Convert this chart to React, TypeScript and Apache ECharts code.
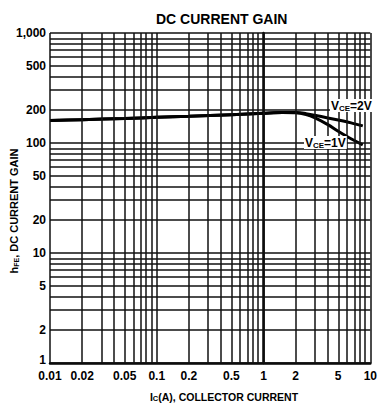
import React, { useEffect, useRef } from 'react';
import * as echarts from 'echarts';

// Collector current (A) sample points
const currentA = [0.01, 0.02, 0.05, 0.1, 0.2, 0.5, 1, 1.5, 2, 2.5, 3, 4, 5, 6, 7, 8.5];
// DC current gain, VCE = 2 V
const gainVce2V = [160, 163, 167, 171, 175, 181, 186, 189, 189, 185, 179, 169, 162, 156, 150, 143];
// DC current gain, VCE = 1 V
const gainVce1V = [160, 163, 167, 171, 175, 181, 186, 189, 188, 181, 170, 147, 128, 115, 106, 96];

const xTickValues = [0.01, 0.02, 0.05, 0.1, 0.2, 0.5, 1, 2, 5, 10];
const xTickLabels = ['0.01', '0.02', '0.05', '0.1', '0.2', '0.5', '1', '2', '5', '10'];
const yTickValues = [1, 2, 5, 10, 20, 50, 100, 200, 500, 1000];
const yTickLabels = ['1', '2', '5', '10', '20', '50', '100', '200', '500', '1,000'];

const xGridValues = [
  0.01, 0.02, 0.03, 0.04, 0.05, 0.06, 0.07, 0.08, 0.09,
  0.1, 0.2, 0.3, 0.4, 0.5, 0.6, 0.7, 0.8, 0.9,
  1, 2, 3, 4, 5, 6, 7, 8, 9, 10,
];
const yGridValues = [
  1, 2, 3, 4, 5, 6, 7, 8, 9,
  10, 20, 30, 40, 50, 60, 70, 80, 90,
  100, 200, 300, 400, 500, 600, 700, 800, 900, 1000,
];

const FONT = '"Liberation Sans", Arial, Helvetica, sans-serif';
const lg = (v: number) => Math.log10(v);

const lookup = (values: number[], labels: string[]) => (v: number) => {
  const i = values.findIndex((t) => Math.abs(lg(t) - v) < 1e-6);
  return i >= 0 ? labels[i] : '';
};

export default function App() {
  const ref = useRef<HTMLDivElement>(null);

  useEffect(() => {
    if (!ref.current) return;
    const chart = echarts.init(ref.current, undefined, { renderer: 'svg' });

    const labelStyle = { color: '#000', fontWeight: 'bold' as const, fontFamily: FONT };
    const yFormat = lookup(yTickValues, yTickLabels);

    chart.setOption({
      animation: false,
      backgroundColor: '#fff',
      title: {
        text: 'DC CURRENT GAIN',
        left: 151,
        top: 7,
        textStyle: { fontSize: 14, fontWeight: 'bold', color: '#000', fontFamily: FONT },
      },
      grid: { left: 50, right: 3, top: 33, bottom: 43, containLabel: false },
      xAxis: {
        type: 'value',
        min: -2,
        max: 1,
        axisLine: { show: true, lineStyle: { color: '#000', width: 2.5 } },
        axisTick: { show: false },
        splitLine: { show: false },
        axisLabel: {
          ...labelStyle,
          fontSize: 12,
          margin: 7,
          customValues: xTickValues.map(lg),
          formatter: lookup(xTickValues, xTickLabels),
        },
      },
      yAxis: {
        type: 'value',
        min: 0,
        max: 3,
        axisLine: { show: true, lineStyle: { color: '#000', width: 2.5 } },
        axisTick: { show: false },
        splitLine: { show: false },
        axisLabel: {
          ...labelStyle,
          fontSize: 12,
          margin: 4,
          customValues: yTickValues.map(lg),
          formatter: (v: number) => {
            const s = yFormat(v);
            return s === '1' ? '{low|1}' : s;
          },
          rich: {
            low: { ...labelStyle, fontSize: 12, padding: [0, 0, 7, 0] },
          },
        },
      },
      series: [
        {
          type: 'line',
          data: [],
          silent: true,
          z: 1,
          markLine: {
            silent: true,
            symbol: ['none', 'none'],
            label: { show: false },
            lineStyle: { color: '#111', width: 1.5, type: 'solid' },
            emphasis: { disabled: true },
            data: [
              ...xGridValues.map((v) => ({ xAxis: lg(v) })),
              ...yGridValues.map((v) => ({ yAxis: lg(v) })),
            ],
          },
        },
        {
          name: 'VCE=2V',
          type: 'line',
          smooth: 0.3,
          symbol: 'none',
          z: 3,
          lineStyle: { color: '#000', width: 3 },
          data: currentA.map((c, i) => [lg(c), lg(gainVce2V[i])]),
        },
        {
          name: 'VCE=1V',
          type: 'line',
          smooth: 0.3,
          symbol: 'none',
          z: 3,
          lineStyle: { color: '#000', width: 3 },
          data: currentA.map((c, i) => [lg(c), lg(gainVce1V[i])]),
        },
      ],
      graphic: [
        {
          type: 'text',
          x: 330,
          y: 99,
          z: 100,
          style: {
            text: '{v|V}{s|CE}{v|=2V}',
            backgroundColor: '#fff',
            padding: [1, 1, 0, 1],
            rich: {
              v: { ...labelStyle, fontSize: 12 },
              s: { ...labelStyle, fontSize: 8, verticalAlign: 'bottom' },
            },
          },
        },
        {
          type: 'text',
          x: 304,
          y: 136,
          z: 100,
          style: {
            text: '{v|V}{s|CE}{v|=1V}',
            backgroundColor: '#fff',
            padding: [1, 1, 0, 1],
            rich: {
              v: { ...labelStyle, fontSize: 12 },
              s: { ...labelStyle, fontSize: 8, verticalAlign: 'bottom' },
            },
          },
        },
        {
          type: 'text',
          x: 14,
          y: 211,
          rotation: Math.PI / 2,
          z: 100,
          style: {
            text: '{h|h}{s|FE}{n|, DC CURRENT GAIN}',
            align: 'center',
            verticalAlign: 'middle',
            rich: {
              h: { ...labelStyle, fontSize: 11 },
              s: { ...labelStyle, fontSize: 7, verticalAlign: 'bottom' },
              n: { ...labelStyle, fontSize: 11 },
            },
          },
        },
        {
          type: 'text',
          x: 224,
          y: 397,
          z: 100,
          style: {
            text: '{i|I}{s|C}{n|(A), COLLECTOR CURRENT}',
            align: 'center',
            verticalAlign: 'middle',
            rich: {
              i: { ...labelStyle, fontSize: 10.5 },
              s: { ...labelStyle, fontSize: 7.5, verticalAlign: 'bottom' },
              n: { ...labelStyle, fontSize: 10.5 },
            },
          },
        },
      ],
    });

    return () => chart.dispose();
  }, []);

  return (
    <div
      ref={ref}
      style={{ position: 'fixed', left: 0, top: 0, width: 380, height: 406, background: '#fff' }}
    />
  );
}
